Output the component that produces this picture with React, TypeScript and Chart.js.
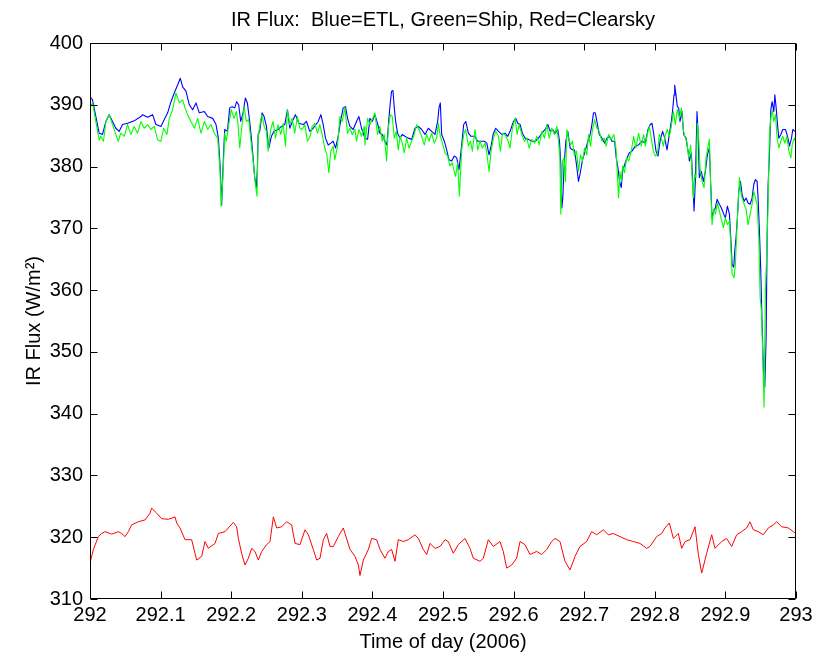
import React, { useEffect, useRef } from "react";
import { Chart, registerables } from "chart.js";

Chart.register(...registerables);

const FONT = "'Liberation Sans', Arial, Helvetica, sans-serif";
const TITLE = "IR Flux:  Blue=ETL, Green=Ship, Red=Clearsky";
const X_TITLE = "Time of day (2006)";
const Y_TITLE = "IR Flux (W/m\u00B2)";

const X_TICKS = [292, 292.1, 292.2, 292.3, 292.4, 292.5, 292.6, 292.7, 292.8, 292.9, 293];
const X_TICK_LABELS = ["292", "292.1", "292.2", "292.3", "292.4", "292.5", "292.6", "292.7", "292.8", "292.9", "293"];
const Y_TICKS = [310, 320, 330, 340, 350, 360, 370, 380, 390, 400];

// ETL (blue)
const blueTimes = [
  292.0, 292.0035, 292.0083, 292.013, 292.0177, 292.0225, 292.0272, 292.0319, 292.0366, 292.0414,
  292.0461, 292.0532, 292.0626, 292.0721, 292.0745, 292.0816, 292.0887, 292.0934, 292.1005, 292.1052,
  292.11, 292.1147, 292.1203, 292.1241, 292.1279, 292.1312, 292.1359, 292.1407, 292.1454, 292.1501,
  292.1548, 292.162, 292.1667, 292.1738, 292.1785, 292.1818, 292.1842, 292.1865, 292.1889,
  292.1908, 292.1946, 292.1979, 292.2012, 292.205, 292.2078, 292.2106, 292.2135, 292.2168, 292.2201,
  292.2229, 292.2262, 292.2286, 292.231, 292.2333, 292.2357, 292.2371, 292.2381, 292.2404, 292.2437,
  292.2466, 292.2499, 292.2532, 292.257, 292.2607, 292.2664, 292.2712, 292.2759, 292.2797, 292.283,
  292.2877, 292.291, 292.2957, 292.3019, 292.3066, 292.3113, 292.3161, 292.3232, 292.327, 292.3303,
  292.3336, 292.3374, 292.3411, 292.3444, 292.3478, 292.3515, 292.3553, 292.3586, 292.3619, 292.3648,
  292.3681, 292.3728, 292.3775, 292.3809, 292.3846,
  292.3894, 292.3932, 292.3965, 292.3998, 292.4035, 292.4073, 292.4106, 292.4139, 292.4177, 292.4206,
  292.4234, 292.4253, 292.4272, 292.4291, 292.431, 292.4329, 292.4357, 292.439, 292.4423, 292.4461,
  292.4508, 292.4556, 292.4603, 292.465, 292.4697, 292.4745, 292.4792, 292.4839, 292.4887, 292.4924,
  292.4943, 292.4962, 292.4981, 292.5019, 292.5052, 292.5085, 292.5123, 292.516, 292.5194, 292.5227,
  292.5265, 292.5293, 292.5322, 292.536, 292.5397, 292.5445, 292.5492, 292.5539, 292.5586, 292.562,
  292.5652, 292.5681, 292.5714, 292.5747, 292.5785, 292.5832,
  292.5879, 292.5917, 292.595, 292.5998, 292.6031, 292.6059, 292.6092, 292.6125, 292.6163, 292.621,
  292.6258, 292.6305, 292.6352, 292.64, 292.6447, 292.6485, 292.6518, 292.6551, 292.6589, 292.6626,
  292.665, 292.6669, 292.6683, 292.6697, 292.6716, 292.674, 292.6768, 292.6801, 292.6834, 292.6862,
  292.6891, 292.6919, 292.6948, 292.6976, 292.7014, 292.7052, 292.7085, 292.7109, 292.7132, 292.7156,
  292.718, 292.7213, 292.7251, 292.7289, 292.7322, 292.7355, 292.7393, 292.7431, 292.7454, 292.7478,
  292.7501, 292.7525, 292.7544, 292.7572, 292.7605, 292.7638, 292.7676, 292.7723, 292.777, 292.7818,
  292.7865, 292.7903, 292.7936, 292.796, 292.7983, 292.8017, 292.8045, 292.8078, 292.8111, 292.814,
  292.8173, 292.8206, 292.8234, 292.8253, 292.8272, 292.8282, 292.83, 292.8319, 292.8338, 292.8357,
  292.8385, 292.8409, 292.8442, 292.8471, 292.849, 292.8518, 292.8537, 292.8556, 292.8574, 292.8598,
  292.8612, 292.8631, 292.866, 292.8688, 292.8716, 292.8745, 292.8773, 292.8792, 292.8811, 292.8835,
  292.8858, 292.8882, 292.8915, 292.8943, 292.8976, 292.9, 292.9028, 292.9057, 292.9076, 292.9095,
  292.9118, 292.9132, 292.9151, 292.917, 292.9189, 292.9213, 292.9236, 292.9265, 292.9293, 292.9321,
  292.935, 292.9378, 292.9402, 292.9426, 292.9449, 292.9463, 292.9482, 292.9501, 292.952, 292.9539,
  292.9558, 292.9577, 292.9591, 292.9605, 292.9624, 292.9643, 292.9662, 292.9686, 292.97, 292.9719,
  292.9738, 292.9757, 292.9785, 292.9813, 292.9851, 292.988, 292.9908, 292.9936, 292.9955, 292.9984,
];
const blueValues = [
  391.3, 390.8, 388.1, 385.4, 385.2, 387.3, 388.4, 387.3, 386.2, 385.7,
  386.8, 387.0, 387.4, 388.1, 388.4, 388.0, 388.4, 386.8, 386.5, 387.6,
  388.7, 390.5, 392.2, 393.2, 394.3, 392.9, 392.2, 390.0, 389.2, 390.3,
  388.7, 388.9, 388.1, 387.8, 386.8, 384.6, 380.3, 373.8, 381.4,
  386.0, 385.7, 389.5, 389.7, 389.5, 390.5, 390.0, 387.3, 388.7, 391.1,
  390.3, 387.3, 384.6, 381.4, 378.2, 376.6, 379.8, 385.2, 385.7, 388.7,
  388.1, 386.5, 383.0, 384.9, 385.7, 386.0, 386.5, 386.8, 389.2, 386.2,
  387.6, 388.4, 387.0, 386.8, 387.3, 385.7, 386.2, 387.3, 388.4, 386.8,
  384.6, 383.5, 383.8, 384.1, 383.0, 384.9, 387.6, 389.5, 389.7, 387.8,
  386.5, 386.0, 387.3, 388.1, 386.2,
  384.6, 384.4, 387.8, 387.3, 388.4, 387.0, 385.4, 385.2, 384.1, 383.5,
  387.8, 390.3, 392.2, 392.3, 389.5, 387.3, 385.4, 384.6, 385.2, 384.9,
  384.6, 384.4, 386.2, 386.5, 386.0, 385.2, 386.2, 385.7, 385.2, 387.3,
  389.5, 390.3, 385.2, 384.1, 382.7, 381.1, 380.9, 381.7, 381.4, 379.5,
  383.5, 386.8, 387.3, 385.4, 384.9, 384.9, 384.1, 384.1, 384.1, 383.8,
  381.9, 383.3, 385.4, 386.2, 385.7, 385.2,
  385.4, 384.9, 385.7, 387.3, 387.8, 387.0, 386.8, 385.4, 384.6, 384.4,
  384.1, 384.1, 384.6, 385.4, 386.0, 386.8, 385.7, 386.0, 385.4, 386.0,
  384.1, 380.3, 373.3, 374.9, 380.3, 384.1, 385.7, 383.0, 382.7, 382.7,
  380.3, 377.6, 379.2, 381.1, 382.5, 384.1, 385.2, 386.8, 388.7, 388.7,
  387.3, 385.2, 384.6, 383.8, 384.6, 384.9, 384.1, 384.1, 381.4, 379.8,
  377.6, 376.6, 379.2, 380.3, 381.4, 382.2, 382.5, 383.3, 383.5, 384.1,
  383.8, 386.0, 386.8, 387.0, 385.4, 382.5, 381.7, 384.4, 385.7, 384.6,
  382.7, 385.2, 387.3, 389.2, 391.6, 393.2, 391.6, 389.7, 389.5, 387.3,
  388.9, 385.2, 384.6, 382.5, 380.9, 382.2, 377.6, 372.8, 377.6, 388.9,
  385.7, 378.2, 379.2, 377.6, 379.2, 381.9, 383.0, 377.1, 371.7, 372.8,
  373.3, 374.7, 373.9, 373.3, 372.3, 371.7, 373.6, 372.3, 368.5, 364.2,
  363.7, 366.3, 368.5, 371.7, 376.0, 377.6, 375.5, 374.4, 374.9, 374.1,
  373.9, 374.9, 377.1, 377.9, 377.6, 374.9, 369.6, 363.1, 354.5, 347.0,
  344.3, 352.4, 368.5, 377.1, 382.0, 389.2, 390.5, 388.9, 391.6, 389.5,
  386.8, 384.6, 385.2, 386.0, 386.0, 384.9, 383.3, 384.6, 386.0, 385.7,
];

// Ship (green)
const greenTimes = [
  292.0, 292.0035, 292.0083, 292.013, 292.0154, 292.0191, 292.0225, 292.0272, 292.0319, 292.0366,
  292.04, 292.0437, 292.0485, 292.0532, 292.0579, 292.0626, 292.0674, 292.0721, 292.0768, 292.0816,
  292.0863, 292.091, 292.0957, 292.1005, 292.1043, 292.109, 292.1123, 292.117, 292.1217, 292.1265,
  292.1312, 292.1345, 292.1383, 292.143, 292.1478, 292.1525, 292.1572, 292.162, 292.1667, 292.1714,
  292.1761, 292.1809, 292.1842, 292.1856, 292.1879, 292.1903,
  292.1908, 292.1931, 292.1965, 292.2002, 292.204, 292.2073, 292.2097, 292.2121, 292.2154, 292.2182,
  292.2215, 292.2248, 292.2277, 292.231, 292.2343, 292.2366, 292.2381, 292.2414, 292.2437, 292.2466,
  292.2499, 292.2522, 292.256, 292.2593, 292.2627, 292.2664, 292.2702, 292.2735, 292.2768, 292.2797,
  292.283, 292.2863, 292.29, 292.2938, 292.2972, 292.3005, 292.3043, 292.308, 292.3118, 292.3147,
  292.3184, 292.3222, 292.3255, 292.3288, 292.3326, 292.3355, 292.3383, 292.3411, 292.3444, 292.3468,
  292.3506, 292.3539, 292.3572, 292.361, 292.3648, 292.3681, 292.3714, 292.3752, 292.3775, 292.3809,
  292.3846, 292.3884,
  292.3894, 292.3932, 292.3965, 292.3998, 292.4035, 292.4073, 292.4106, 292.4139, 292.4168, 292.4201,
  292.4225, 292.4253, 292.4281, 292.431, 292.4338, 292.4366, 292.4395, 292.4423, 292.4452, 292.4485,
  292.4518, 292.4556, 292.4593, 292.4626, 292.4659, 292.4697, 292.4735, 292.4768, 292.4801, 292.4839,
  292.4877, 292.491, 292.4934, 292.4962, 292.4991, 292.5028, 292.5066, 292.5099, 292.5132, 292.516,
  292.5179, 292.5208, 292.5232, 292.5265, 292.5293, 292.5322, 292.536, 292.5388, 292.5416, 292.5454,
  292.5492, 292.5525, 292.5558, 292.5596, 292.562, 292.5652, 292.5681, 292.5714, 292.5747, 292.5785,
  292.5813, 292.5842,
  292.5879, 292.5917, 292.595, 292.5983, 292.6021, 292.605, 292.6078, 292.6116, 292.6154, 292.6187,
  292.622, 292.6258, 292.6296, 292.6329, 292.6362, 292.64, 292.6437, 292.647, 292.6504, 292.6541,
  292.6579, 292.6612, 292.6636, 292.6655, 292.6669, 292.6693, 292.6716, 292.6735, 292.6754, 292.6778,
  292.6806, 292.6834, 292.6862, 292.6891, 292.6919, 292.6948, 292.6976, 292.7005, 292.7038, 292.7061,
  292.709, 292.7118, 292.7147, 292.718, 292.7213, 292.7251, 292.7284, 292.7312, 292.7345, 292.7383,
  292.7421, 292.745, 292.7468, 292.7487, 292.7506, 292.7525, 292.7544, 292.7572, 292.76, 292.7629,
  292.7667, 292.77, 292.7733, 292.777, 292.7808, 292.7842,
  292.7865, 292.7894, 292.7922, 292.795, 292.7979, 292.8007, 292.8036, 292.8064, 292.8092, 292.8121,
  292.815, 292.8178, 292.8206, 292.8234, 292.8263, 292.8291, 292.8319, 292.8348, 292.8376, 292.8404,
  292.8423, 292.8452, 292.848, 292.8509, 292.8527, 292.8546, 292.8565, 292.8584, 292.8603, 292.8622,
  292.8641, 292.8669, 292.8698, 292.8726, 292.8754, 292.8773, 292.8792, 292.8811, 292.8835, 292.8858,
  292.8887, 292.8915, 292.8943, 292.8972, 292.9, 292.9028, 292.9057, 292.9076, 292.9095, 292.9123,
  292.9142, 292.9161, 292.918, 292.9199, 292.9217, 292.9236, 292.9265, 292.9293, 292.9321, 292.935,
  292.9378, 292.9402, 292.9426, 292.9449, 292.9473, 292.9492, 292.9511, 292.953, 292.9548, 292.9567,
  292.9586, 292.9605, 292.9624, 292.9643, 292.9662, 292.9686, 292.9709, 292.9733, 292.9757, 292.9785,
  292.9813, 292.9842, 292.987, 292.9899, 292.9927, 292.9946, 292.9974, 292.9993,
];
const greenValues = [
  389.5, 390.3, 387.3, 384.3, 384.9, 384.1, 387.3, 388.4, 386.8, 385.2,
  384.1, 385.4, 384.9, 386.8, 385.2, 386.5, 385.4, 387.3, 386.2, 386.8,
  386.0, 386.5, 384.3, 384.1, 386.2, 385.2, 387.8, 389.2, 391.9, 390.3,
  390.8, 389.5, 388.4, 387.3, 386.2, 387.8, 385.4, 387.3, 386.0, 386.8,
  385.4, 384.6, 379.2, 373.6, 377.6, 383.5,
  385.4, 384.1, 386.8, 389.2, 387.8, 388.9, 386.8, 383.0, 386.8, 389.7,
  387.3, 387.6, 384.4, 380.9, 377.1, 375.2, 384.6, 387.3, 388.4, 386.5,
  385.7, 382.5, 386.0, 387.3, 384.6, 386.8, 385.2, 387.0, 383.3, 389.2,
  386.8, 387.8, 385.4, 388.1, 386.2, 386.0, 386.8, 384.1, 384.9, 386.5,
  387.0, 385.4, 386.8, 385.2, 383.0, 381.9, 379.0, 382.5, 383.3, 381.1,
  383.3, 388.1, 387.3, 389.5, 385.4, 386.2, 385.2, 386.0, 384.1, 386.0,
  384.9, 386.5,
  383.5, 387.8, 386.8, 387.6, 388.7, 385.2, 386.5, 384.1, 385.2, 380.9,
  386.2, 388.4, 388.1, 384.6, 385.7, 382.7, 384.9, 383.8, 382.2, 384.6,
  383.0, 384.1, 385.2, 386.8, 386.0, 384.9, 383.5, 385.2, 384.1, 385.4,
  383.8, 384.6, 387.0, 384.9, 383.8, 382.2, 381.7, 380.1, 380.6, 379.2,
  378.4, 380.6, 375.2, 382.7, 385.2, 386.0, 383.3, 384.1, 382.5, 386.0,
  382.7, 384.1, 383.0, 383.8, 382.2, 379.2, 382.5, 384.6, 385.7, 384.9,
  382.5, 385.4,
  385.2, 384.3, 383.0, 386.2, 387.8, 385.2, 386.8, 385.2, 384.1, 384.6,
  383.0, 384.4, 383.8, 384.9, 383.5, 385.7, 384.6, 386.8, 384.6, 386.2,
  385.2, 386.5, 384.1, 381.4, 372.3, 380.9, 381.4, 377.6, 386.0, 384.6,
  383.5, 384.1, 381.7, 382.5, 379.2, 381.9, 380.9, 383.0, 381.9, 385.2,
  383.3, 386.0, 387.6, 386.2, 385.7, 384.1, 384.6, 383.3, 385.2, 384.4,
  385.2, 383.0, 379.2, 374.9, 379.2, 377.6, 380.1, 379.0, 381.4, 380.9,
  382.5, 384.9, 383.0, 385.4, 383.3, 385.2,
  383.3, 385.2, 386.5, 384.6, 382.5, 381.7, 382.0, 385.2, 384.6, 383.3,
  385.2, 386.0, 384.9, 386.5, 388.9, 386.8, 389.2, 387.8, 389.5, 386.0,
  384.9, 384.1, 381.4, 383.5, 378.7, 374.9, 378.7, 378.2, 387.0, 384.6,
  379.8, 377.6, 376.6, 381.4, 383.3, 384.4, 376.6, 370.6, 373.1, 372.3,
  374.1, 372.8, 371.4, 370.1, 371.7, 370.6, 371.2, 367.4, 362.6, 362.0,
  364.2, 369.6, 373.9, 378.2, 376.0, 374.9, 373.9, 373.1, 370.6, 372.3,
  373.9, 376.0, 374.9, 373.9, 368.5, 358.8, 356.6, 349.1, 341.1, 360.4,
  365.8, 374.4, 385.2, 387.8, 389.2, 387.3, 388.4, 384.6, 383.0, 384.1,
  384.9, 383.8, 384.9, 382.5, 381.4, 383.5, 384.6, 384.1,
];

// Clearsky (red)
const redTimes = [
  292.0, 292.0047, 292.0118, 292.0165, 292.0212, 292.0307, 292.0401, 292.0449, 292.0496, 292.0543,
  292.059, 292.0685, 292.0779, 292.085, 292.0873, 292.0944, 292.1015, 292.111, 292.1204, 292.1228,
  292.1275, 292.1346, 292.144, 292.1511, 292.1582, 292.1629, 292.1676, 292.1771, 292.1818, 292.1912,
  292.1959, 292.203, 292.2077, 292.2101, 292.2148, 292.2195, 292.2243, 292.229, 292.2337, 292.2384,
  292.2432, 292.2502, 292.255, 292.2597, 292.2644, 292.2715, 292.2786, 292.2856, 292.2904, 292.2975,
  292.3045, 292.3093, 292.3163, 292.3211, 292.3258, 292.3305, 292.3352, 292.3399, 292.3447, 292.3517,
  292.3588, 292.3612, 292.3683, 292.3754, 292.3801, 292.3824, 292.3872, 292.3942, 292.399, 292.406,
  292.4108, 292.4178, 292.4226, 292.4273, 292.432, 292.4367, 292.4438, 292.4509, 292.4603, 292.4651,
  292.4721, 292.4769, 292.4816, 292.4887, 292.4958,
  292.5028, 292.5075, 292.5146, 292.5217, 292.5312, 292.5382, 292.5429, 292.5524, 292.5571, 292.5642,
  292.5713, 292.5807, 292.5854, 292.5902, 292.5973, 292.6043, 292.6091, 292.6161, 292.6232, 292.6327,
  292.6398, 292.6468, 292.6539, 292.6586, 292.6657, 292.6728, 292.6799, 292.687, 292.694, 292.7035,
  292.7106, 292.7177, 292.7271, 292.7342, 292.7413, 292.7507, 292.7602, 292.7696, 292.779, 292.7885,
  292.7932, 292.8026, 292.8097, 292.8144, 292.8206, 292.8263, 292.8333, 292.8381, 292.8428, 292.8499,
  292.857, 292.8617, 292.8664, 292.8735, 292.8806, 292.8853, 292.8947, 292.9018, 292.9089, 292.916,
  292.9231, 292.9301, 292.9348, 292.9396, 292.9466, 292.9537, 292.9608, 292.9679, 292.9726, 292.9797,
  292.9891, 292.9962, 293.0,
];
const redValues = [
  315.8, 318.0, 320.1, 320.6, 320.9, 320.5, 320.9, 320.6, 320.1, 320.9,
  322.0, 322.5, 322.8, 323.9, 324.7, 323.9, 323.0, 322.9, 323.3, 322.3,
  321.5, 319.6, 319.6, 316.3, 316.9, 319.3, 318.2, 319.0, 320.6, 320.9,
  321.5, 322.4, 321.7, 319.8, 317.4, 315.5, 316.6, 318.2, 317.7, 316.3,
  317.7, 318.8, 319.3, 323.3, 321.5, 321.7, 322.5, 322.0, 319.0, 318.8,
  321.2, 320.4, 318.0, 316.3, 316.6, 319.6, 320.6, 318.5, 318.5, 320.1,
  321.5, 320.6, 318.0, 316.9, 315.5, 313.8, 316.3, 318.0, 319.8, 319.6,
  318.0, 316.6, 317.7, 318.0, 316.1, 319.6, 319.3, 319.6, 320.4, 319.8,
  318.0, 317.2, 319.0, 318.2, 318.5,
  319.6, 319.3, 317.4, 318.8, 319.8, 318.2, 316.6, 316.1, 316.6, 319.6,
  318.5, 319.3, 317.7, 315.0, 315.5, 316.6, 319.3, 318.8, 317.2, 317.7,
  317.2, 318.0, 319.3, 319.8, 319.3, 316.1, 314.7, 316.9, 318.5, 319.3,
  320.9, 320.4, 321.2, 320.4, 320.6, 320.1, 319.6, 319.3, 319.0, 318.2,
  318.5, 320.1, 320.6, 321.5, 322.3, 319.8, 320.6, 318.2, 319.3, 319.6,
  321.7, 317.2, 314.2, 317.4, 320.4, 318.2, 319.3, 319.8, 318.5, 320.4,
  320.9, 321.5, 322.5, 321.2, 320.9, 320.4, 321.5, 322.0, 322.5, 321.7,
  321.5, 320.9, 320.6,
];

const toPoints = (ts: number[], vs: number[]) => ts.map((t, i) => ({ x: t, y: vs[i] }));

const matlabAxes = {
  id: "matlabAxes",
  afterDraw(chart: any) {
    const { ctx, chartArea: a, scales } = chart;
    const x = scales.x;
    const y = scales.y;
    const L = Math.round(a.left) + 0.5;
    const R = Math.round(a.right) - 0.5;
    const T = Math.round(a.top) + 0.5;
    const B = Math.round(a.bottom) - 0.5;
    const tl = 7;
    ctx.save();
    ctx.strokeStyle = "#000";
    ctx.lineWidth = 1;
    ctx.beginPath();
    ctx.rect(L, T, R - L, B - T);
    X_TICKS.forEach((v) => {
      const px = Math.round(x.getPixelForValue(v)) + 0.5;
      ctx.moveTo(px, B);
      ctx.lineTo(px, B - tl);
      ctx.moveTo(px, T);
      ctx.lineTo(px, T + tl);
    });
    Y_TICKS.forEach((v) => {
      const py = Math.round(y.getPixelForValue(v)) + 0.5;
      ctx.moveTo(L, py);
      ctx.lineTo(L + tl, py);
      ctx.moveTo(R, py);
      ctx.lineTo(R - tl, py);
    });
    ctx.stroke();

    ctx.fillStyle = "#000";
    ctx.font = `20px ${FONT}`;
    ctx.textAlign = "center";
    ctx.textBaseline = "alphabetic";
    const cx = (a.left + a.right) / 2;
    ctx.fillText(TITLE, cx, 26);
    ctx.fillText(X_TITLE, cx, 648);
    ctx.save();
    ctx.translate(40, (a.top + a.bottom) / 2);
    ctx.rotate(-Math.PI / 2);
    ctx.fillText(Y_TITLE, 0, 0);
    ctx.restore();
    ctx.restore();
  },
};

export default function App() {
  const ref = useRef<HTMLCanvasElement | null>(null);

  useEffect(() => {
    if (!ref.current) return;
    const chart = new Chart(ref.current, {
      type: "line",
      data: {
        datasets: [
          {
            label: "Clearsky",
            data: toPoints(redTimes, redValues),
            borderColor: "#ff0000",
            borderWidth: 1,
            pointRadius: 0,
            tension: 0,
            order: 2,
          },
          {
            label: "ETL",
            data: toPoints(blueTimes, blueValues),
            borderColor: "#0000ff",
            borderWidth: 1.1,
            pointRadius: 0,
            tension: 0,
            order: 1,
          },
          {
            label: "Ship",
            data: toPoints(greenTimes, greenValues),
            borderColor: "#00ff00",
            borderWidth: 1.1,
            pointRadius: 0,
            tension: 0,
            order: 0,
          },
        ],
      },
      options: {
        animation: false,
        responsive: false,
        events: [],
        layout: { padding: { left: 0, right: 22, top: 43, bottom: 0 } },
        plugins: { legend: { display: false }, title: { display: false }, tooltip: { enabled: false } },
        elements: { line: { borderJoinStyle: "round" } },
        scales: {
          x: {
            type: "linear",
            min: 292,
            max: 293,
            grid: { display: false, drawTicks: false },
            border: { display: false },
            afterBuildTicks: (s: any) => {
              s.ticks = X_TICKS.map((v) => ({ value: v }));
            },
            afterFit: (s: any) => {
              s.height = 60;
            },
            ticks: {
              color: "#000",
              font: { family: FONT, size: 20 },
              padding: 4.5,
              maxRotation: 0,
              autoSkip: false,
              callback: (_v: any, i: number) => X_TICK_LABELS[i],
            },
          },
          y: {
            type: "linear",
            min: 310,
            max: 400,
            grid: { display: false, drawTicks: false },
            border: { display: false },
            afterBuildTicks: (s: any) => {
              s.ticks = Y_TICKS.map((v) => ({ value: v }));
            },
            afterFit: (s: any) => {
              s.width = 90;
            },
            ticks: {
              color: "#000",
              font: { family: FONT, size: 20 },
              padding: 7,
              autoSkip: false,
              callback: (v: any) => String(v),
            },
          },
        },
      },
      plugins: [matlabAxes],
    });
    return () => chart.destroy();
  }, []);

  return (
    <div style={{ position: "absolute", left: 0, top: 0, width: 818, height: 659, background: "#fff" }}>
      <canvas ref={ref} width={818} height={659} style={{ display: "block" }} />
    </div>
  );
}
